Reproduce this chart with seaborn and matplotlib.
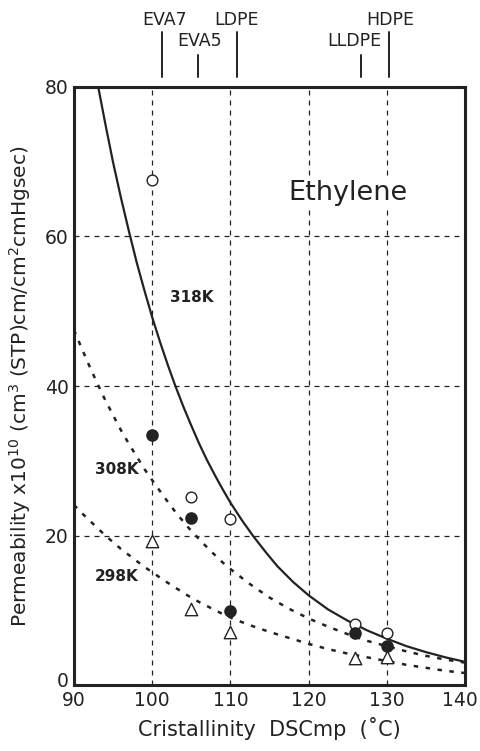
import matplotlib
matplotlib.use('agg')
import matplotlib.pyplot as plt
from matplotlib.transforms import ScaledTranslation
import seaborn as sns

# fitted curves
curve_318_x = [93.1, 94, 95, 96, 97, 98, 99, 100, 101, 102, 103, 104, 105, 106, 107, 108, 109, 110,
               111.5, 113, 114.5, 116, 118, 120, 122.5, 125, 127.5, 130, 132.5, 135, 137.5, 140]
curve_318_y = [80, 75.1, 69.9, 65.2, 60.8, 56.6, 52.8, 49.2, 45.9, 42.8, 39.9, 37.2, 34.7, 32.3, 30.1, 28.1, 26.2, 24.4,
               22.0, 19.8, 17.8, 15.9, 13.8, 12.0, 10.1, 8.6, 7.3, 6.2, 5.2, 4.4, 3.7, 3.1]
curve_308_x = [90, 91, 92, 93, 94, 95, 96, 97, 98, 99, 100, 101.5, 103, 104.5, 106, 107.5, 109, 110.5,
               112.5, 115, 117.5, 120, 122.5, 125, 127.5, 130, 132.5, 135, 137.5, 140]
curve_308_y = [47.5, 45.0, 42.6, 40.3, 38.1, 36.1, 34.1, 32.3, 30.6, 28.9, 27.4, 25.2, 23.1, 21.2, 19.5, 17.9, 16.4, 15.1,
               13.5, 11.7, 10.2, 8.9, 7.8, 6.8, 5.9, 5.2, 4.5, 3.9, 3.4, 3.0]
curve_298_x = [90, 91, 92, 93, 94, 95, 96, 97, 98, 99, 100, 101.5, 103, 104.5, 106, 107.5, 109, 110.5,
               112.5, 115, 117.5, 120, 122.5, 125, 127.5, 130, 132.5, 135, 137.5, 140]
curve_298_y = [24.1, 23.0, 22.0, 21.0, 20.0, 19.1, 18.2, 17.4, 16.6, 15.8, 15.1, 14.0, 13.0, 12.0, 11.1, 10.3, 9.5, 8.8,
               8.0, 7.1, 6.3, 5.5, 4.8, 4.2, 3.7, 3.2, 2.7, 2.3, 1.9, 1.6]

# measured points
pts_x = [100, 105, 110, 125.9, 130]
pts_318 = [67.5, 25.1, 22.2, 8.2, 6.9]
pts_308 = [33.4, 22.4, 9.9, 7.0, 5.2]
pts_298 = [19.3, 10.2, 7.1, 3.6, 3.7]

# polymer melting points marked above the frame
polymers = ['EVA7', 'EVA5', 'LDPE', 'LLDPE', 'HDPE']
polymer_mp = [101.2, 105.8, 110.8, 126.7, 130.3]
polymer_label_x = [101.6, 106.1, 110.8, 125.9, 130.4]
polymer_long = [True, False, True, False, True]

ink = '#222222'

sns.set_style('white')
plt.rcParams['font.family'] = ['DejaVu Sans']
plt.rcParams['mathtext.fontset'] = 'dejavusans'

fig = plt.figure(figsize=(4.81, 7.51), dpi=100)
ax = fig.add_axes([74 / 481, 66 / 751, 391 / 481, 598 / 751])

dash = (0, (1.8, 3.0))
sns.lineplot(x=curve_318_x, y=curve_318_y, ax=ax, color=ink, lw=1.6, sort=False)
sns.lineplot(x=curve_308_x, y=curve_308_y, ax=ax, color=ink, lw=1.8, linestyle=dash, sort=False)
sns.lineplot(x=curve_298_x, y=curve_298_y, ax=ax, color=ink, lw=1.8, linestyle=dash, sort=False)

sns.scatterplot(x=pts_x, y=pts_318, ax=ax, marker='o', s=60, facecolor='white',
                edgecolor=ink, linewidth=1.0, zorder=5)
sns.scatterplot(x=pts_x, y=pts_308, ax=ax, marker='o', s=65, color=ink,
                edgecolor=ink, linewidth=1.0, zorder=5)
sns.scatterplot(x=pts_x, y=pts_298, ax=ax, marker='^', s=80, facecolor='white',
                edgecolor=ink, linewidth=1.0, zorder=5)

ax.set_xlim(90, 140)
ax.set_ylim(0, 80)
ax.set_xticks(range(90, 141, 10))
ax.set_yticks(range(0, 81, 20))
ax.set_xticks(range(95, 140, 10), minor=True)
ax.set_yticks(range(10, 80, 20), minor=True)
ax.tick_params(which='major', length=0, labelsize=13.5, labelcolor=ink, pad=4)
ax.tick_params(which='minor', direction='in', length=5, width=1, color=ink)
ax.grid(True, which='major', linestyle=(0, (4, 4)), linewidth=0.9, color=ink)
for sp in ax.spines.values():
    sp.set_linewidth(2.2)
    sp.set_color(ink)

# the "0" sits a little above the x axis in the original, "140" hugs the right edge
zero = ax.get_yticklabels()[0]
zero.set_transform(zero.get_transform() + ScaledTranslation(0, 4 / 72, fig.dpi_scale_trans))
last = ax.get_xticklabels()[-1]
last.set_transform(last.get_transform() + ScaledTranslation(-3.5 / 72, 0, fig.dpi_scale_trans))

ax.set_xlabel('Cristallinity  DSCmp  (˚C)', fontsize=15, color=ink, labelpad=5)
ax.set_ylabel(r'Permeability x10$^{10}$ (cm$^{3}$ (STP)cm/cm$^{2}$cmHgsec)',
              fontsize=14.5, color=ink)
ax.yaxis.set_label_coords(-0.105, 0.5)

ax.text(95.5, 28.8, '308K', fontsize=11, fontweight='bold', color=ink, ha='center', va='center')
ax.text(95.5, 14.5, '298K', fontsize=11, fontweight='bold', color=ink, ha='center', va='center')
ax.text(105.1, 51.9, '318K', fontsize=11, fontweight='bold', color=ink, ha='center', va='center')
ax.text(125, 65.8, 'Ethylene', fontsize=19.5, color=ink, ha='center', va='center',
        bbox=dict(facecolor='white', edgecolor='none', pad=1))

for name, mp, lx, is_long in zip(polymers, polymer_mp, polymer_label_x, polymer_long):
    top = 87.4 if is_long else 84.3
    ax.plot([mp, mp], [81.3, top], color=ink, lw=1.4, clip_on=False)
    ty = 88.9 if is_long else 86.1
    ax.text(lx, ty, name, fontsize=12.5, color=ink, ha='center', va='center', clip_on=False)

plt.savefig('out.png', dpi=100)
